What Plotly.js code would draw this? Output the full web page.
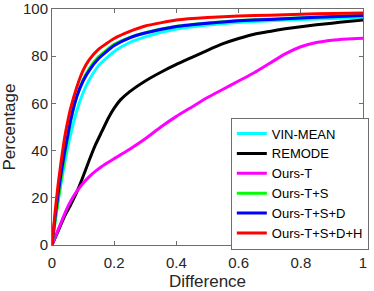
<!DOCTYPE html>
<html>
<head>
<meta charset="utf-8">
<script src="https://cdn.plot.ly/plotly-3.0.1.min.js"></script>
<style>html,body{margin:0;padding:0;background:#fff;}#chart{width:374px;height:291px;}</style>
</head>
<body>
<div id="chart"></div>
<script>
const seriesNames = ["VIN-MEAN", "REMODE", "Ours-T", "Ours-T+S", "Ours-T+S+D", "Ours-T+S+D+H"];
const seriesColors = ["#00ffff", "#000000", "#ff00ff", "#00ff00", "#0000ff", "#ff0000"];

const xFast = [0, 0.01, 0.02, 0.03, 0.04, 0.05, 0.06, 0.08, 0.1, 0.12, 0.15, 0.2, 0.25, 0.3, 0.4, 0.5, 0.6, 0.7, 0.8, 0.9, 1.0];
const vinMean = [0, 10, 19, 27, 34, 41, 47, 57, 64.5, 70, 76, 82, 85.8, 88.2, 91.5, 93.2, 94.3, 95.0, 95.6, 96.0, 96.4];
const oursTS = [0, 10, 19, 28, 37, 45, 52.5, 63, 70, 74.8, 79.8, 85, 88, 90, 92.7, 94.1, 95.1, 95.7, 96.3, 96.8, 97.3];
const oursTSD = [0, 12, 22, 31, 39, 46, 53, 63, 69.5, 74, 79, 84.5, 87.8, 89.8, 92.6, 94.0, 95.0, 95.6, 96.2, 96.7, 97.2];
const oursTSDH = [0, 14, 26, 36, 45, 52, 58, 67, 74, 78.5, 83, 87.5, 90.5, 92.8, 95.3, 96.4, 97.0, 97.4, 97.8, 98.1, 98.3];

const xSlow = [0, 0.02, 0.04, 0.06, 0.08, 0.1, 0.12, 0.14, 0.16, 0.18, 0.2, 0.22, 0.25, 0.3, 0.35, 0.4, 0.45, 0.5, 0.55, 0.6, 0.65, 0.7, 0.75, 0.8, 0.85, 0.9, 0.95, 1.0];
const remode = [0, 6, 12, 17, 22.5, 29, 36, 42.5, 48, 53.5, 58, 61.5, 65, 69.5, 73.2, 76.5, 79.5, 82.5, 85.3, 87.5, 89.3, 90.5, 91.6, 92.5, 93.3, 94, 94.7, 95.3];
const oursT = [0, 6.5, 13, 18.5, 22.8, 26.2, 29, 31.3, 33.3, 35, 36.6, 38.2, 40.6, 45, 50, 54.5, 58.5, 62.5, 66, 69.5, 73, 77, 81, 84, 85.8, 86.8, 87.3, 87.6];

const xs = [xFast, xSlow, xSlow, xFast, xFast, xFast];
const ys = [vinMean, remode, oursT, oursTS, oursTSD, oursTSDH];

const traces = seriesNames.map((n, i) => ({
  type: "scatter", mode: "lines", name: n,
  x: xs[i], y: ys[i],
  line: {color: seriesColors[i], width: 3, shape: "spline", smoothing: 0.5}
}));

const FONT = "Liberation Sans, Arial, sans-serif";
const axisCommon = {
  showgrid: false, zeroline: false, showline: true, mirror: "ticks",
  linecolor: "#6e6e6e", linewidth: 1, ticks: "inside", ticklen: 4, tickcolor: "#6e6e6e",
  ticklabeloverflow: "allow",
  tickfont: {family: FONT, size: 15, color: "#262626"}
};

const layout = {
  width: 374, height: 291,
  margin: {l: 52, r: 5, t: 9, b: 46},
  paper_bgcolor: "#ffffff", plot_bgcolor: "#ffffff",
  showlegend: true,
  xaxis: Object.assign({}, axisCommon, {
    range: [0, 1], tickvals: [0, 0.2, 0.4, 0.6, 0.8, 1], ticktext: ["0", "0.2", "0.4", "0.6", "0.8", "1"],
    ticklabelstandoff: 4,
    title: {text: "Difference", font: {family: FONT, size: 17, color: "#262626"}, standoff: 7}
  }),
  yaxis: Object.assign({}, axisCommon, {
    range: [0, 100], tickvals: [0, 20, 40, 60, 80, 100],
    title: {text: "Percentage", font: {family: FONT, size: 17, color: "#262626"}, standoff: 10}
  }),
  legend: {
    x: 0.575, y: 0.54, xanchor: "left", yanchor: "top",
    bgcolor: "#ffffff", bordercolor: "#6e6e6e", borderwidth: 1,
    font: {family: FONT, size: 13, color: "#000000"},
    itemwidth: 30, tracegroupgap: 0
  }
};

Plotly.newPlot("chart", traces, layout, {staticPlot: true, displayModeBar: false});
</script>
</body>
</html>
